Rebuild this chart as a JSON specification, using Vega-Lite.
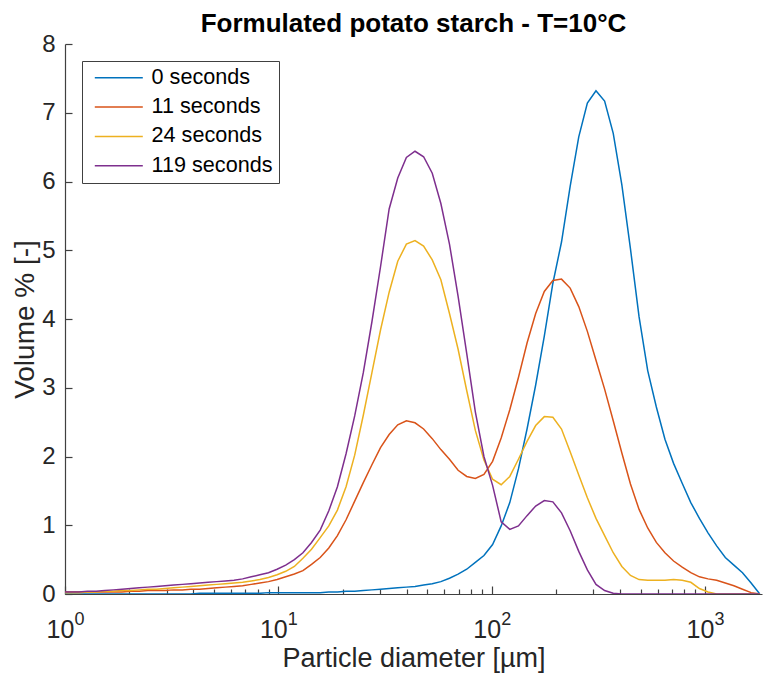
{
"$schema": "https://vega.github.io/schema/vega-lite/v6.json",
"width": 697, "height": 550,
"autosize": {"type": "none"},
"padding": {"left": 65, "top": 44, "right": 3, "bottom": 82},
"background": "white",
"config": {"view": {"stroke": null}, "font": "Liberation Sans"},
"title": {"text": "Formulated potato starch - T=10°C", "fontSize": 26, "fontWeight": "bold", "font": "Liberation Sans", "color": "#000000", "anchor": "middle", "offset": -5},
"datasets": {"pts": [
{"d":0.964,"s":"0 seconds","v":0},{"d":1.058,"s":"0 seconds","v":0},{"d":1.161,"s":"0 seconds","v":0},{"d":1.275,"s":"0 seconds","v":0},{"d":1.399,"s":"0 seconds","v":0},{"d":1.536,"s":"0 seconds","v":0},{"d":1.685,"s":"0 seconds","v":0},{"d":1.849,"s":"0 seconds","v":0},{"d":2.03,"s":"0 seconds","v":0},{"d":2.228,"s":"0 seconds","v":0},{"d":2.445,"s":"0 seconds","v":0},{"d":2.684,"s":"0 seconds","v":0},{"d":2.944,"s":"0 seconds","v":0},{"d":3.232,"s":"0 seconds","v":0},{"d":3.547,"s":"0 seconds","v":0},{"d":3.893,"s":"0 seconds","v":0},{"d":4.272,"s":"0 seconds","v":0.01},{"d":4.688,"s":"0 seconds","v":0.01},{"d":5.146,"s":"0 seconds","v":0.01},{"d":5.646,"s":"0 seconds","v":0.01},{"d":6.197,"s":"0 seconds","v":0.01},{"d":6.802,"s":"0 seconds","v":0.01},{"d":7.464,"s":"0 seconds","v":0.01},{"d":8.193,"s":"0 seconds","v":0.01},{"d":8.992,"s":"0 seconds","v":0.02},{"d":9.867,"s":"0 seconds","v":0.02},{"d":10.83,"s":"0 seconds","v":0.02},{"d":11.89,"s":"0 seconds","v":0.02},{"d":13.04,"s":"0 seconds","v":0.02},{"d":14.31,"s":"0 seconds","v":0.02},{"d":15.71,"s":"0 seconds","v":0.02},{"d":17.24,"s":"0 seconds","v":0.03},{"d":18.92,"s":"0 seconds","v":0.03},{"d":20.77,"s":"0 seconds","v":0.04},{"d":22.8,"s":"0 seconds","v":0.04},{"d":25.02,"s":"0 seconds","v":0.05},{"d":27.46,"s":"0 seconds","v":0.06},{"d":30.13,"s":"0 seconds","v":0.07},{"d":33.07,"s":"0 seconds","v":0.08},{"d":36.29,"s":"0 seconds","v":0.09},{"d":39.83,"s":"0 seconds","v":0.1},{"d":43.72,"s":"0 seconds","v":0.11},{"d":47.97,"s":"0 seconds","v":0.13},{"d":52.66,"s":"0 seconds","v":0.15},{"d":57.79,"s":"0 seconds","v":0.18},{"d":63.42,"s":"0 seconds","v":0.23},{"d":69.61,"s":"0 seconds","v":0.29},{"d":76.38,"s":"0 seconds","v":0.36},{"d":83.84,"s":"0 seconds","v":0.46},{"d":92,"s":"0 seconds","v":0.56},{"d":101,"s":"0 seconds","v":0.72},{"d":110.8,"s":"0 seconds","v":0.99},{"d":121.6,"s":"0 seconds","v":1.33},{"d":133.5,"s":"0 seconds","v":1.82},{"d":146.5,"s":"0 seconds","v":2.4},{"d":160.8,"s":"0 seconds","v":3.04},{"d":176.5,"s":"0 seconds","v":3.75},{"d":193.6,"s":"0 seconds","v":4.52},{"d":212.5,"s":"0 seconds","v":5.12},{"d":233.3,"s":"0 seconds","v":5.93},{"d":256,"s":"0 seconds","v":6.65},{"d":280.9,"s":"0 seconds","v":7.14},{"d":308.3,"s":"0 seconds","v":7.32},{"d":338.4,"s":"0 seconds","v":7.17},{"d":371.4,"s":"0 seconds","v":6.7},{"d":407.6,"s":"0 seconds","v":5.95},{"d":447.3,"s":"0 seconds","v":5.02},{"d":490.9,"s":"0 seconds","v":4.03},{"d":538.8,"s":"0 seconds","v":3.25},{"d":591.4,"s":"0 seconds","v":2.72},{"d":649,"s":"0 seconds","v":2.25},{"d":712.3,"s":"0 seconds","v":1.9},{"d":781.7,"s":"0 seconds","v":1.61},{"d":857.9,"s":"0 seconds","v":1.33},{"d":941.5,"s":"0 seconds","v":1.1},{"d":1033,"s":"0 seconds","v":0.89},{"d":1134,"s":"0 seconds","v":0.7},{"d":1245,"s":"0 seconds","v":0.53},{"d":1366,"s":"0 seconds","v":0.42},{"d":1499,"s":"0 seconds","v":0.31},{"d":1645,"s":"0 seconds","v":0.16},{"d":1806,"s":"0 seconds","v":0},
{"d":0.964,"s":"11 seconds","v":0.03},{"d":1.058,"s":"11 seconds","v":0.03},{"d":1.161,"s":"11 seconds","v":0.03},{"d":1.275,"s":"11 seconds","v":0.03},{"d":1.399,"s":"11 seconds","v":0.03},{"d":1.536,"s":"11 seconds","v":0.03},{"d":1.685,"s":"11 seconds","v":0.03},{"d":1.849,"s":"11 seconds","v":0.03},{"d":2.03,"s":"11 seconds","v":0.04},{"d":2.228,"s":"11 seconds","v":0.04},{"d":2.445,"s":"11 seconds","v":0.05},{"d":2.684,"s":"11 seconds","v":0.05},{"d":2.944,"s":"11 seconds","v":0.05},{"d":3.232,"s":"11 seconds","v":0.06},{"d":3.547,"s":"11 seconds","v":0.06},{"d":3.893,"s":"11 seconds","v":0.07},{"d":4.272,"s":"11 seconds","v":0.07},{"d":4.688,"s":"11 seconds","v":0.08},{"d":5.146,"s":"11 seconds","v":0.09},{"d":5.646,"s":"11 seconds","v":0.1},{"d":6.197,"s":"11 seconds","v":0.11},{"d":6.802,"s":"11 seconds","v":0.12},{"d":7.464,"s":"11 seconds","v":0.14},{"d":8.193,"s":"11 seconds","v":0.16},{"d":8.992,"s":"11 seconds","v":0.18},{"d":9.867,"s":"11 seconds","v":0.21},{"d":10.83,"s":"11 seconds","v":0.25},{"d":11.89,"s":"11 seconds","v":0.29},{"d":13.04,"s":"11 seconds","v":0.34},{"d":14.31,"s":"11 seconds","v":0.43},{"d":15.71,"s":"11 seconds","v":0.53},{"d":17.24,"s":"11 seconds","v":0.67},{"d":18.92,"s":"11 seconds","v":0.85},{"d":20.77,"s":"11 seconds","v":1.08},{"d":22.8,"s":"11 seconds","v":1.35},{"d":25.02,"s":"11 seconds","v":1.62},{"d":27.46,"s":"11 seconds","v":1.88},{"d":30.13,"s":"11 seconds","v":2.13},{"d":33.07,"s":"11 seconds","v":2.32},{"d":36.29,"s":"11 seconds","v":2.46},{"d":39.83,"s":"11 seconds","v":2.52},{"d":43.72,"s":"11 seconds","v":2.49},{"d":47.97,"s":"11 seconds","v":2.4},{"d":52.66,"s":"11 seconds","v":2.26},{"d":57.79,"s":"11 seconds","v":2.1},{"d":63.42,"s":"11 seconds","v":1.96},{"d":69.61,"s":"11 seconds","v":1.8},{"d":76.38,"s":"11 seconds","v":1.71},{"d":83.84,"s":"11 seconds","v":1.68},{"d":92,"s":"11 seconds","v":1.74},{"d":101,"s":"11 seconds","v":1.93},{"d":110.8,"s":"11 seconds","v":2.27},{"d":121.6,"s":"11 seconds","v":2.68},{"d":133.5,"s":"11 seconds","v":3.15},{"d":146.5,"s":"11 seconds","v":3.65},{"d":160.8,"s":"11 seconds","v":4.08},{"d":176.5,"s":"11 seconds","v":4.4},{"d":193.6,"s":"11 seconds","v":4.56},{"d":212.5,"s":"11 seconds","v":4.58},{"d":233.3,"s":"11 seconds","v":4.45},{"d":256,"s":"11 seconds","v":4.18},{"d":280.9,"s":"11 seconds","v":3.82},{"d":308.3,"s":"11 seconds","v":3.4},{"d":338.4,"s":"11 seconds","v":2.98},{"d":371.4,"s":"11 seconds","v":2.52},{"d":407.6,"s":"11 seconds","v":2.05},{"d":447.3,"s":"11 seconds","v":1.6},{"d":490.9,"s":"11 seconds","v":1.23},{"d":538.8,"s":"11 seconds","v":0.96},{"d":591.4,"s":"11 seconds","v":0.75},{"d":649,"s":"11 seconds","v":0.6},{"d":712.3,"s":"11 seconds","v":0.48},{"d":781.7,"s":"11 seconds","v":0.39},{"d":857.9,"s":"11 seconds","v":0.31},{"d":941.5,"s":"11 seconds","v":0.25},{"d":1033,"s":"11 seconds","v":0.22},{"d":1134,"s":"11 seconds","v":0.2},{"d":1245,"s":"11 seconds","v":0.16},{"d":1366,"s":"11 seconds","v":0.12},{"d":1499,"s":"11 seconds","v":0.07},{"d":1645,"s":"11 seconds","v":0.02},{"d":1806,"s":"11 seconds","v":0},
{"d":0.964,"s":"24 seconds","v":0.02},{"d":1.058,"s":"24 seconds","v":0.02},{"d":1.161,"s":"24 seconds","v":0.02},{"d":1.275,"s":"24 seconds","v":0.03},{"d":1.399,"s":"24 seconds","v":0.03},{"d":1.536,"s":"24 seconds","v":0.04},{"d":1.685,"s":"24 seconds","v":0.04},{"d":1.849,"s":"24 seconds","v":0.05},{"d":2.03,"s":"24 seconds","v":0.05},{"d":2.228,"s":"24 seconds","v":0.06},{"d":2.445,"s":"24 seconds","v":0.07},{"d":2.684,"s":"24 seconds","v":0.07},{"d":2.944,"s":"24 seconds","v":0.08},{"d":3.232,"s":"24 seconds","v":0.09},{"d":3.547,"s":"24 seconds","v":0.1},{"d":3.893,"s":"24 seconds","v":0.11},{"d":4.272,"s":"24 seconds","v":0.12},{"d":4.688,"s":"24 seconds","v":0.13},{"d":5.146,"s":"24 seconds","v":0.14},{"d":5.646,"s":"24 seconds","v":0.15},{"d":6.197,"s":"24 seconds","v":0.16},{"d":6.802,"s":"24 seconds","v":0.17},{"d":7.464,"s":"24 seconds","v":0.19},{"d":8.193,"s":"24 seconds","v":0.21},{"d":8.992,"s":"24 seconds","v":0.24},{"d":9.867,"s":"24 seconds","v":0.28},{"d":10.83,"s":"24 seconds","v":0.33},{"d":11.89,"s":"24 seconds","v":0.4},{"d":13.04,"s":"24 seconds","v":0.52},{"d":14.31,"s":"24 seconds","v":0.65},{"d":15.71,"s":"24 seconds","v":0.82},{"d":17.24,"s":"24 seconds","v":0.99},{"d":18.92,"s":"24 seconds","v":1.22},{"d":20.77,"s":"24 seconds","v":1.56},{"d":22.8,"s":"24 seconds","v":2.02},{"d":25.02,"s":"24 seconds","v":2.6},{"d":27.46,"s":"24 seconds","v":3.22},{"d":30.13,"s":"24 seconds","v":3.84},{"d":33.07,"s":"24 seconds","v":4.39},{"d":36.29,"s":"24 seconds","v":4.84},{"d":39.83,"s":"24 seconds","v":5.09},{"d":43.72,"s":"24 seconds","v":5.14},{"d":47.97,"s":"24 seconds","v":5.06},{"d":52.66,"s":"24 seconds","v":4.86},{"d":57.79,"s":"24 seconds","v":4.57},{"d":63.42,"s":"24 seconds","v":4.08},{"d":69.61,"s":"24 seconds","v":3.56},{"d":76.38,"s":"24 seconds","v":2.96},{"d":83.84,"s":"24 seconds","v":2.38},{"d":92,"s":"24 seconds","v":1.95},{"d":101,"s":"24 seconds","v":1.67},{"d":110.8,"s":"24 seconds","v":1.59},{"d":121.6,"s":"24 seconds","v":1.71},{"d":133.5,"s":"24 seconds","v":1.96},{"d":146.5,"s":"24 seconds","v":2.22},{"d":160.8,"s":"24 seconds","v":2.45},{"d":176.5,"s":"24 seconds","v":2.58},{"d":193.6,"s":"24 seconds","v":2.57},{"d":212.5,"s":"24 seconds","v":2.4},{"d":233.3,"s":"24 seconds","v":2.07},{"d":256,"s":"24 seconds","v":1.73},{"d":280.9,"s":"24 seconds","v":1.4},{"d":308.3,"s":"24 seconds","v":1.1},{"d":338.4,"s":"24 seconds","v":0.85},{"d":371.4,"s":"24 seconds","v":0.6},{"d":407.6,"s":"24 seconds","v":0.4},{"d":447.3,"s":"24 seconds","v":0.27},{"d":490.9,"s":"24 seconds","v":0.21},{"d":538.8,"s":"24 seconds","v":0.2},{"d":591.4,"s":"24 seconds","v":0.2},{"d":649,"s":"24 seconds","v":0.2},{"d":712.3,"s":"24 seconds","v":0.21},{"d":781.7,"s":"24 seconds","v":0.2},{"d":857.9,"s":"24 seconds","v":0.17},{"d":941.5,"s":"24 seconds","v":0.08},{"d":1033,"s":"24 seconds","v":0.03},{"d":1134,"s":"24 seconds","v":0},{"d":1245,"s":"24 seconds","v":0},{"d":1366,"s":"24 seconds","v":0},{"d":1499,"s":"24 seconds","v":0},{"d":1645,"s":"24 seconds","v":0},{"d":1806,"s":"24 seconds","v":0},
{"d":0.964,"s":"119 seconds","v":0.03},{"d":1.058,"s":"119 seconds","v":0.03},{"d":1.161,"s":"119 seconds","v":0.03},{"d":1.275,"s":"119 seconds","v":0.04},{"d":1.399,"s":"119 seconds","v":0.04},{"d":1.536,"s":"119 seconds","v":0.05},{"d":1.685,"s":"119 seconds","v":0.06},{"d":1.849,"s":"119 seconds","v":0.07},{"d":2.03,"s":"119 seconds","v":0.08},{"d":2.228,"s":"119 seconds","v":0.09},{"d":2.445,"s":"119 seconds","v":0.1},{"d":2.684,"s":"119 seconds","v":0.11},{"d":2.944,"s":"119 seconds","v":0.12},{"d":3.232,"s":"119 seconds","v":0.13},{"d":3.547,"s":"119 seconds","v":0.14},{"d":3.893,"s":"119 seconds","v":0.15},{"d":4.272,"s":"119 seconds","v":0.16},{"d":4.688,"s":"119 seconds","v":0.17},{"d":5.146,"s":"119 seconds","v":0.18},{"d":5.646,"s":"119 seconds","v":0.19},{"d":6.197,"s":"119 seconds","v":0.2},{"d":6.802,"s":"119 seconds","v":0.22},{"d":7.464,"s":"119 seconds","v":0.25},{"d":8.193,"s":"119 seconds","v":0.28},{"d":8.992,"s":"119 seconds","v":0.31},{"d":9.867,"s":"119 seconds","v":0.36},{"d":10.83,"s":"119 seconds","v":0.42},{"d":11.89,"s":"119 seconds","v":0.5},{"d":13.04,"s":"119 seconds","v":0.6},{"d":14.31,"s":"119 seconds","v":0.75},{"d":15.71,"s":"119 seconds","v":0.93},{"d":17.24,"s":"119 seconds","v":1.21},{"d":18.92,"s":"119 seconds","v":1.56},{"d":20.77,"s":"119 seconds","v":2.04},{"d":22.8,"s":"119 seconds","v":2.59},{"d":25.02,"s":"119 seconds","v":3.22},{"d":27.46,"s":"119 seconds","v":3.96},{"d":30.13,"s":"119 seconds","v":4.76},{"d":33.07,"s":"119 seconds","v":5.6},{"d":36.29,"s":"119 seconds","v":6.05},{"d":39.83,"s":"119 seconds","v":6.35},{"d":43.72,"s":"119 seconds","v":6.44},{"d":47.97,"s":"119 seconds","v":6.36},{"d":52.66,"s":"119 seconds","v":6.12},{"d":57.79,"s":"119 seconds","v":5.68},{"d":63.42,"s":"119 seconds","v":5.09},{"d":69.61,"s":"119 seconds","v":4.33},{"d":76.38,"s":"119 seconds","v":3.5},{"d":83.84,"s":"119 seconds","v":2.65},{"d":92,"s":"119 seconds","v":2},{"d":101,"s":"119 seconds","v":1.58},{"d":110.8,"s":"119 seconds","v":1.05},{"d":121.6,"s":"119 seconds","v":0.94},{"d":133.5,"s":"119 seconds","v":0.99},{"d":146.5,"s":"119 seconds","v":1.14},{"d":160.8,"s":"119 seconds","v":1.28},{"d":176.5,"s":"119 seconds","v":1.36},{"d":193.6,"s":"119 seconds","v":1.34},{"d":212.5,"s":"119 seconds","v":1.18},{"d":233.3,"s":"119 seconds","v":0.92},{"d":256,"s":"119 seconds","v":0.62},{"d":280.9,"s":"119 seconds","v":0.35},{"d":308.3,"s":"119 seconds","v":0.14},{"d":338.4,"s":"119 seconds","v":0.05},{"d":371.4,"s":"119 seconds","v":0.01},{"d":407.6,"s":"119 seconds","v":0},{"d":447.3,"s":"119 seconds","v":0},{"d":490.9,"s":"119 seconds","v":0},{"d":538.8,"s":"119 seconds","v":0},{"d":591.4,"s":"119 seconds","v":0},{"d":649,"s":"119 seconds","v":0},{"d":712.3,"s":"119 seconds","v":0},{"d":781.7,"s":"119 seconds","v":0},{"d":857.9,"s":"119 seconds","v":0},{"d":941.5,"s":"119 seconds","v":0},{"d":1033,"s":"119 seconds","v":0},{"d":1134,"s":"119 seconds","v":0},{"d":1245,"s":"119 seconds","v":0},{"d":1366,"s":"119 seconds","v":0},{"d":1499,"s":"119 seconds","v":0},{"d":1645,"s":"119 seconds","v":0},{"d":1806,"s":"119 seconds","v":0}
]},
"data": {"name": "pts"},
"encoding": {
  "y": {"field": "v", "type": "quantitative",
    "scale": {"domain": [0, 8], "nice": false},
    "axis": {"values": [0,1,2,3,4,5,6,7,8], "tickSize": -7, "labelPadding": 17, "labelFontSize": 24, "labelFont": "Liberation Sans", "labelColor": "#262626",
      "domainColor": "#404040", "domainWidth": 1.2, "tickColor": "#404040", "tickWidth": 1.2, "grid": false,
      "title": "Volume % [-]", "titleFontSize": 28, "titleFont": "Liberation Sans", "titleFontWeight": "normal", "titleColor": "#262626", "titlePadding": 2}}
},
"layer": [
  {
    "mark": {"type": "line", "strokeWidth": 1.5, "clip": true},
    "encoding": {
      "x": {"field": "d", "type": "quantitative",
        "scale": {"type": "log", "domain": [1, 1850], "nice": false},
        "axis": {"orient": "bottom", "values": [1,2,3,4,5,6,7,8,9,10,20,30,40,50,60,70,80,90,100,200,300,400,500,600,700,800,900,1000],
          "labelExpr": "datum.value == 1 || datum.value == 10 || datum.value == 100 || datum.value == 1000 ? '10' : ''",
          "tickSize": {"condition": {"test": "datum.value == 1 || datum.value == 10 || datum.value == 100 || datum.value == 1000", "value": -8}, "value": -5},
          "labelPadding": 31, "labelOffset": -5, "labelFontSize": 25, "labelFont": "Liberation Sans", "labelColor": "#262626",
          "labelFlush": false, "labelOverlap": false, "labelBaseline": "top",
          "domainColor": "#404040", "domainWidth": 1.2, "tickColor": "#404040", "tickWidth": 1.2, "grid": false,
          "title": "Particle diameter [µm]", "titleFontSize": 27, "titleFont": "Liberation Sans", "titleFontWeight": "normal", "titleColor": "#262626", "titlePadding": 0}},
      "color": {"field": "s", "type": "nominal",
        "scale": {"domain": ["0 seconds", "11 seconds", "24 seconds", "119 seconds"], "range": ["#0072BD", "#D95319", "#EDB120", "#7E2F8E"]},
        "legend": {"title": null, "orient": "none", "legendX": 17, "legendY": 17, "symbolType": "M-4,0L4,0", "symbolSize": 144, "symbolStrokeWidth": 1.5,
          "labelFontSize": 21.6, "labelFont": "Liberation Sans", "labelColor": "#000000", "labelOffset": 22, "labelLimit": 300,
          "strokeColor": "#404040", "fillColor": "white", "padding": 6, "rowPadding": 6.3, "symbolOffset": 20}}
    }
  },
  {
    "mark": {"type": "point", "opacity": 0, "clip": true},
    "encoding": {
      "x": {"field": "d", "type": "quantitative",
        "scale": {"type": "log", "domain": [1, 1850], "nice": false},
        "axis": {"orient": "bottom", "values": [1, 10, 100, 1000],
          "labelExpr": "datum.value == 1 ? '0' : datum.value == 10 ? '1' : datum.value == 100 ? '2' : '3'",
          "domain": false, "ticks": false, "grid": false, "title": null,
          "labelPadding": 16, "labelOffset": 14, "labelFontSize": 18, "labelFont": "Liberation Sans", "labelColor": "#262626",
          "labelFlush": false, "labelOverlap": false, "labelBaseline": "top"}}
    }
  }
],
"resolve": {"axis": {"x": "independent"}}
}
